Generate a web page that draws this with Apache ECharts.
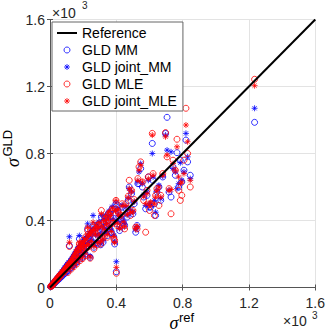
<!DOCTYPE html>
<html><head><meta charset="utf-8">
<script src="https://cdn.jsdelivr.net/npm/echarts@6/dist/echarts.min.js"></script>
<style>html,body{margin:0;padding:0;background:#fff}#c{width:328px;height:332px}</style>
</head><body><div id="c"></div>
<script>
// values in units of 10^3
const xRef=[0.004,0.008,0.012,0.016,0.020,0.024,0.028,0.032,0.036,0.040,0.044,0.048,0.052,0.056,0.060,0.064,0.068,0.072,0.076,0.080,0.084,0.088,0.092,0.096,0.100,0.104,0.108,0.112,0.117,0.120,0.124,0.128,0.132,0.136,0.140,0.144,0.148,0.152,0.156,0.160,0.164,0.168,0.172,0.177,0.180,0.184,0.188,0.192,0.196,0.200,0.204,0.208,0.212,0.216,0.220,0.227,0.230,0.234,0.238,0.242,0.246,0.250,0.255,0.260,0.265,0.270,0.275,0.280,0.285,0.290,0.295,0.300,0.306,0.310,0.315,0.320,0.325,0.330,0.335,0.340,0.345,0.350,0.355,0.360,0.365,0.370,0.375,0.380,0.385,0.390,0.395,0.398,0.400,0.405,0.410,0.415,0.420,0.428,0.435,0.442,0.450,0.458,0.465,0.472,0.478,0.485,0.492,0.500,0.508,0.517,0.525,0.530,0.537,0.547,0.557,0.565,0.577,0.585,0.593,0.600,0.607,0.617,0.622,0.630,0.637,0.645,0.657,0.668,0.680,0.697,0.706,0.718,0.730,0.742,0.756,0.766,0.776,0.786,0.795,0.808,0.820,0.830,0.846,1.234];
const yMM=[0.005,0.010,0.014,0.020,0.018,0.030,0.026,0.040,0.034,0.050,0.041,0.058,0.050,0.068,0.056,0.078,0.064,0.088,0.072,0.098,0.080,0.110,0.086,0.120,0.094,0.132,0.100,0.140,0.250,0.112,0.155,0.120,0.165,0.130,0.178,0.135,0.190,0.148,0.205,0.150,0.212,0.175,0.232,0.290,0.170,0.240,0.205,0.255,0.180,0.262,0.228,0.275,0.200,0.285,0.248,0.350,0.295,0.260,0.310,0.180,0.320,0.272,0.335,0.370,0.240,0.370,0.300,0.360,0.265,0.340,0.380,0.310,0.255,0.420,0.350,0.270,0.395,0.340,0.420,0.370,0.310,0.400,0.445,0.350,0.420,0.330,0.470,0.395,0.300,0.260,0.445,0.500,0.094,0.380,0.460,0.420,0.340,0.410,0.480,0.385,0.370,0.470,0.420,0.520,0.600,0.450,0.560,0.440,0.500,0.330,0.370,0.620,0.620,0.710,0.600,0.540,0.470,0.550,0.660,0.480,0.480,0.860,0.640,0.500,0.430,0.570,0.600,0.520,0.660,0.920,1.016,0.570,0.540,0.720,0.670,0.805,0.600,0.760,0.630,0.700,0.880,0.750,0.670,0.986];
const yJointMM=[0.004,0.009,0.016,0.019,0.024,0.028,0.033,0.038,0.042,0.047,0.052,0.062,0.060,0.072,0.066,0.082,0.075,0.094,0.080,0.104,0.090,0.118,0.094,0.128,0.104,0.140,0.112,0.150,0.303,0.125,0.162,0.128,0.175,0.140,0.188,0.142,0.200,0.158,0.215,0.160,0.228,0.185,0.245,0.310,0.178,0.252,0.212,0.268,0.190,0.275,0.236,0.290,0.210,0.298,0.255,0.380,0.305,0.268,0.322,0.188,0.332,0.280,0.345,0.430,0.250,0.352,0.312,0.372,0.272,0.352,0.392,0.318,0.262,0.430,0.362,0.280,0.405,0.350,0.432,0.380,0.322,0.412,0.455,0.362,0.432,0.342,0.482,0.405,0.312,0.272,0.458,0.505,0.154,0.392,0.470,0.430,0.352,0.422,0.492,0.398,0.380,0.482,0.432,0.532,0.590,0.462,0.570,0.450,0.512,0.345,0.362,0.632,0.690,0.740,0.620,0.552,0.490,0.570,0.640,0.500,0.492,0.800,0.660,0.520,0.450,0.575,0.610,0.530,0.665,0.910,0.820,0.580,0.810,0.710,0.690,0.590,0.620,0.745,0.640,0.690,0.920,0.780,0.650,1.070];
const yMLE=[0.006,0.008,0.013,0.015,0.023,0.026,0.034,0.036,0.044,0.043,0.055,0.052,0.064,0.062,0.074,0.070,0.082,0.080,0.092,0.090,0.100,0.098,0.108,0.112,0.118,0.124,0.090,0.135,0.245,0.140,0.148,0.110,0.158,0.152,0.172,0.125,0.185,0.168,0.198,0.140,0.218,0.195,0.228,0.260,0.160,0.248,0.225,0.262,0.172,0.282,0.242,0.268,0.190,0.302,0.235,0.340,0.318,0.245,0.300,0.175,0.340,0.262,0.325,0.360,0.230,0.340,0.325,0.355,0.255,0.368,0.375,0.300,0.260,0.460,0.372,0.295,0.385,0.330,0.412,0.390,0.300,0.420,0.438,0.372,0.445,0.320,0.460,0.385,0.290,0.280,0.470,0.520,0.085,0.370,0.455,0.440,0.362,0.432,0.500,0.375,0.350,0.500,0.445,0.545,0.640,0.430,0.580,0.460,0.525,0.360,0.350,0.650,0.720,0.750,0.630,0.520,0.330,0.580,0.660,0.460,0.500,0.920,0.680,0.430,0.550,0.590,0.490,0.550,0.680,0.925,0.780,0.590,0.440,0.760,0.700,0.885,0.580,0.520,0.550,0.760,1.070,0.800,0.600,1.243];
const yJointMLE=[0.005,0.010,0.015,0.018,0.022,0.029,0.031,0.039,0.040,0.048,0.050,0.056,0.058,0.066,0.070,0.076,0.078,0.086,0.088,0.095,0.096,0.106,0.102,0.118,0.112,0.130,0.106,0.142,0.270,0.132,0.152,0.118,0.168,0.146,0.182,0.138,0.195,0.162,0.210,0.152,0.222,0.188,0.238,0.270,0.172,0.245,0.218,0.258,0.185,0.270,0.238,0.280,0.205,0.292,0.250,0.360,0.310,0.258,0.315,0.182,0.328,0.275,0.340,0.390,0.245,0.345,0.318,0.365,0.268,0.358,0.388,0.312,0.270,0.440,0.360,0.290,0.400,0.345,0.425,0.382,0.315,0.410,0.450,0.365,0.430,0.335,0.475,0.400,0.305,0.268,0.460,0.520,0.120,0.385,0.465,0.432,0.355,0.425,0.488,0.392,0.362,0.490,0.438,0.538,0.590,0.448,0.575,0.455,0.515,0.352,0.365,0.640,0.700,0.730,0.630,0.545,0.500,0.560,0.650,0.490,0.510,0.910,0.670,0.500,0.540,0.580,0.600,0.540,0.670,0.900,0.790,0.580,0.585,0.740,0.700,0.840,0.660,0.620,0.630,0.680,0.970,0.870,0.640,1.205];
const refLine=[[0,0],[1.6,1.6]];
const tickValues=[0,0.4,0.8,1.2,1.6];
const names=['Reference','GLD MM','GLD joint_MM','GLD MLE','GLD joint_MLE'];

const BLUE='#0000ff', RED='#ff0000';
const star='path://M10,0L10,20M0,10L20,10M3,3L17,17M3,17L17,3';
function pts(ys){return xRef.map((x,i)=>[x,ys[i]]);}
const FONT='Liberation Sans';
const fmt=v=>v===0?'0':v.toFixed(1);
const hollow=c=>({color:'rgba(0,0,0,0)',borderColor:c,borderWidth:1});

const chart=echarts.init(document.getElementById('c'),null,{renderer:'svg'});
const axisCommon={type:'value',min:0,max:1.6,interval:0.4,
  axisLine:{show:true,lineStyle:{color:'#555',width:1}},
  axisTick:{show:true,inside:true,length:3,lineStyle:{color:'#555'}}};
function txt(x,y,t,size,extra){
  return {type:'text',x:x,y:y,style:Object.assign({text:t,fontSize:size,lineHeight:size,fontFamily:FONT,fill:'#262626',verticalAlign:'middle',align:'left'},extra||{})};
}
chart.setOption({
  animation:false,
  backgroundColor:'#fff',
  grid:{left:50,top:19.5,width:268,height:268,containLabel:false},
  xAxis:[
    Object.assign({},axisCommon,{position:'bottom',
      axisLabel:{formatter:fmt,fontSize:14,lineHeight:14,fontFamily:FONT,color:'#262626',margin:8},
      splitLine:{show:true,lineStyle:{color:'#e3e3e3',width:1}}}),
    Object.assign({},axisCommon,{position:'top',axisLabel:{show:false},splitLine:{show:false}})
  ],
  yAxis:[
    Object.assign({},axisCommon,{position:'left',
      axisLabel:{formatter:fmt,fontSize:14,lineHeight:14,fontFamily:FONT,color:'#262626',margin:5},
      splitLine:{show:true,lineStyle:{color:'#e3e3e3',width:1}}}),
    Object.assign({},axisCommon,{position:'right',axisLabel:{show:false},splitLine:{show:false}})
  ],
  legend:{orient:'vertical',left:52,top:22,itemWidth:20,itemHeight:6,itemGap:3,
    padding:[4,6,3,5],borderColor:'#666',borderWidth:1,backgroundColor:'#fff',
    textStyle:{fontSize:14,fontFamily:FONT,color:'#000'},
    data:[
      {name:names[0],icon:'path://M0,0L20,0L20,2L0,2Z',itemStyle:{color:'#000',borderWidth:0}},
      {name:names[1],icon:'circle',itemStyle:hollow(BLUE)},
      {name:names[2],icon:star,itemStyle:hollow(BLUE)},
      {name:names[3],icon:'circle',itemStyle:hollow(RED)},
      {name:names[4],icon:star,itemStyle:hollow(RED)}
    ]},
  series:[
    {name:names[0],type:'line',data:refLine,symbol:'none',lineStyle:{color:'#000',width:2},itemStyle:{color:'#000'}},
    {name:names[1],type:'scatter',data:pts(yMM),symbol:'circle',symbolSize:6,itemStyle:hollow(BLUE)},
    {name:names[2],type:'scatter',data:pts(yJointMM),symbol:star,symbolSize:6,itemStyle:hollow(BLUE)},
    {name:names[3],type:'scatter',data:pts(yMLE),symbol:'circle',symbolSize:6,itemStyle:hollow(RED)},
    {name:names[4],type:'scatter',data:pts(yJointMLE),symbol:star,symbolSize:6,itemStyle:hollow(RED)}
  ],
  graphic:[
    txt(52,13,'\u00d710',14),
    txt(82,5,'3',10),
    txt(283,321,'\u00d710',14),
    txt(312,315,'3',10),
    txt(174,323,'\u03c3',18,{fontFamily:'Liberation Serif',fontStyle:'italic',fill:'#000',align:'center'}),
    txt(179,317.5,'ref',13,{fill:'#000'}),
    {type:'group',x:14,y:153.5,rotation:Math.PI/2,children:[
      txt(-9,-1,'\u03c3',18,{fontFamily:'Liberation Serif',fontStyle:'italic',fill:'#000',align:'center'}),
      txt(-3,-7,'GLD',13,{fill:'#000'})
    ]}
  ]
});
</script></body></html>
